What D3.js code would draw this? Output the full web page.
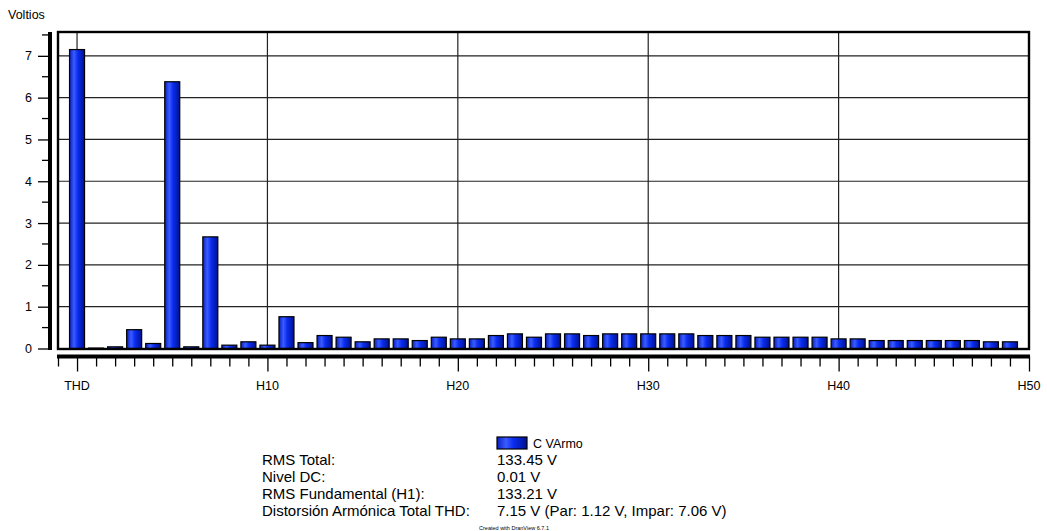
<!DOCTYPE html>
<html>
<head>
<meta charset="utf-8">
<script src="https://cdn.jsdelivr.net/npm/d3@7"></script>
<style>
  html, body { margin: 0; padding: 0; background: #fff; }
  svg { display: block; font-family: "Liberation Sans", Arial, sans-serif; }
</style>
</head>
<body>
<svg id="chart" width="1047" height="531"></svg>
<script>
// Harmonic spectrum: slot 0 = THD, slot 1 = DC, slots 2..49 = harmonics H2..H49
const slots = d3.range(0, 50);
const voltios = [
  7.15, 0.01, 0.04, 0.45, 0.12, 6.38, 0.04, 2.67, 0.08, 0.16,
  0.08, 0.76, 0.14, 0.31, 0.27, 0.16, 0.23, 0.23, 0.19, 0.27,
  0.23, 0.23, 0.31, 0.35, 0.27, 0.35, 0.35, 0.31, 0.35, 0.35,
  0.35, 0.35, 0.35, 0.31, 0.31, 0.31, 0.27, 0.27, 0.27, 0.27,
  0.23, 0.23, 0.19, 0.19, 0.19, 0.19, 0.19, 0.19, 0.16, 0.16
];
const xTickLabels = [[0, "THD"], [10, "H10"], [20, "H20"], [30, "H30"], [40, "H40"], [50, "H50"]];
const yTicks = [0, 1, 2, 3, 4, 5, 6, 7];
const seriesName = "C VArmo";
const statLabels = ["RMS Total:", "Nivel DC:", "RMS Fundamental (H1):", "Distorsión Armónica Total THD:"];
const statValues = ["133.45 V", "0.01 V", "133.21 V", "7.15 V (Par: 1.12 V, Impar: 7.06 V)"];

const svg = d3.select("#chart");

const plot = { left: 58, right: 1029, top: 32, bottom: 349 };
const x = d3.scaleLinear().domain([-1, 50]).range([plot.left, plot.right]);
const y = d3.scaleLinear().domain([0, 7.57]).range([348.5, plot.top]);

// Bar gradient
const defs = svg.append("defs");
const grad = defs.append("linearGradient").attr("id", "barGrad")
  .attr("x1", "0").attr("x2", "1").attr("y1", "0").attr("y2", "0");
[["0", "#0a20c0"], ["0.3", "#3a5cff"], ["0.55", "#0a2cf0"], ["1", "#00128f"]]
  .forEach(([o, c]) => grad.append("stop").attr("offset", o).attr("stop-color", c));

// Horizontal grid lines
svg.append("g").selectAll("line").data(yTicks.filter(d => d > 0)).join("line")
  .attr("x1", plot.left).attr("x2", plot.right)
  .attr("y1", d => y(d)).attr("y2", d => y(d))
  .attr("stroke", "#222").attr("stroke-width", 1.2);

// Vertical grid lines at labelled positions
svg.append("g").selectAll("line").data(xTickLabels.map(d => d[0]).filter(d => d < 50)).join("line")
  .attr("x1", d => x(d)).attr("x2", d => x(d))
  .attr("y1", plot.top).attr("y2", plot.bottom)
  .attr("stroke", "#222").attr("stroke-width", 1.2);

// Bars
const bw = 15;
svg.append("g").selectAll("rect").data(slots).join("rect")
  .attr("x", i => x(i) - bw / 2)
  .attr("y", i => y(voltios[i]))
  .attr("width", bw)
  .attr("height", i => Math.max(0.5, y(0) - y(voltios[i])))
  .attr("fill", "url(#barGrad)")
  .attr("stroke", "#000").attr("stroke-width", 1.2);

// Plot frame
svg.append("rect")
  .attr("x", plot.left).attr("y", plot.top)
  .attr("width", plot.right - plot.left).attr("height", plot.bottom - plot.top)
  .attr("fill", "none").attr("stroke", "#000").attr("stroke-width", 2.4);

// Y axis (separate from frame)
const yAxisX = 50;
svg.append("line").attr("x1", yAxisX).attr("x2", yAxisX)
  .attr("y1", plot.top).attr("y2", plot.bottom + 1)
  .attr("stroke", "#000").attr("stroke-width", 4);
const yAxis = d3.axisLeft(y).tickValues(yTicks).tickSize(12).tickSizeOuter(0).tickPadding(6);
const gy = svg.append("g").attr("transform", `translate(${yAxisX},0)`).call(yAxis);
gy.select(".domain").remove();
gy.selectAll("line").attr("stroke", "#000").attr("stroke-width", 1.3);
gy.selectAll("text").attr("font-size", 12.5).attr("fill", "#000")
  .attr("font-family", "Liberation Sans, Arial, sans-serif");
// minor y ticks at half units
svg.append("g").selectAll("line").data(d3.range(0.5, 7.6, 1)).join("line")
  .attr("x1", yAxisX - 8).attr("x2", yAxisX)
  .attr("y1", d => y(d)).attr("y2", d => y(d))
  .attr("stroke", "#000").attr("stroke-width", 1.3);

// X axis
const xAxisY = 356.5;
svg.append("line").attr("x1", plot.left - 1).attr("x2", plot.right + 1)
  .attr("y1", xAxisY).attr("y2", xAxisY)
  .attr("stroke", "#000").attr("stroke-width", 4);
const majorSet = new Set(xTickLabels.map(d => d[0]));
const xAxis = d3.axisBottom(x).tickValues(d3.range(-1, 51)).tickSizeOuter(0)
  .tickSize(10).tickFormat(() => "");
const gx = svg.append("g").attr("transform", `translate(0,${xAxisY})`).call(xAxis);
gx.select(".domain").remove();
gx.selectAll(".tick line").attr("stroke", "#000").attr("stroke-width", 1.3)
  .attr("y2", d => majorSet.has(d) ? 15 : 10);
svg.append("g").selectAll("text").data(xTickLabels).join("text")
  .attr("x", d => x(d[0])).attr("y", 389.5)
  .attr("text-anchor", "middle").attr("font-size", 12.5).attr("fill", "#000")
  .text(d => d[1]);

// Y axis title
svg.append("text").attr("x", 8).attr("y", 18.5).attr("font-size", 12.5).attr("fill", "#000").text("Voltios");

// Legend
svg.append("rect").attr("x", 497).attr("y", 437).attr("width", 30).attr("height", 12)
  .attr("fill", "url(#barGrad)").attr("stroke", "#000").attr("stroke-width", 1.2);
svg.append("text").attr("x", 533).attr("y", 448).attr("font-size", 12.5).attr("fill", "#000").text(seriesName);

// Summary table
const rowY = [465, 482, 499, 516];
svg.append("g").selectAll("text").data(statLabels).join("text")
  .attr("x", 262).attr("y", (d, i) => rowY[i])
  .attr("font-size", 15).attr("fill", "#000").text(d => d);
svg.append("g").selectAll("text").data(statValues).join("text")
  .attr("x", 497).attr("y", (d, i) => rowY[i])
  .attr("font-size", 15).attr("fill", "#000").text(d => d);

// Footer
svg.append("text").attr("x", 514).attr("y", 530).attr("text-anchor", "middle")
  .attr("font-size", 5.5).attr("fill", "#000").text("Created with DranView 6.7.1");
</script>
</body>
</html>
